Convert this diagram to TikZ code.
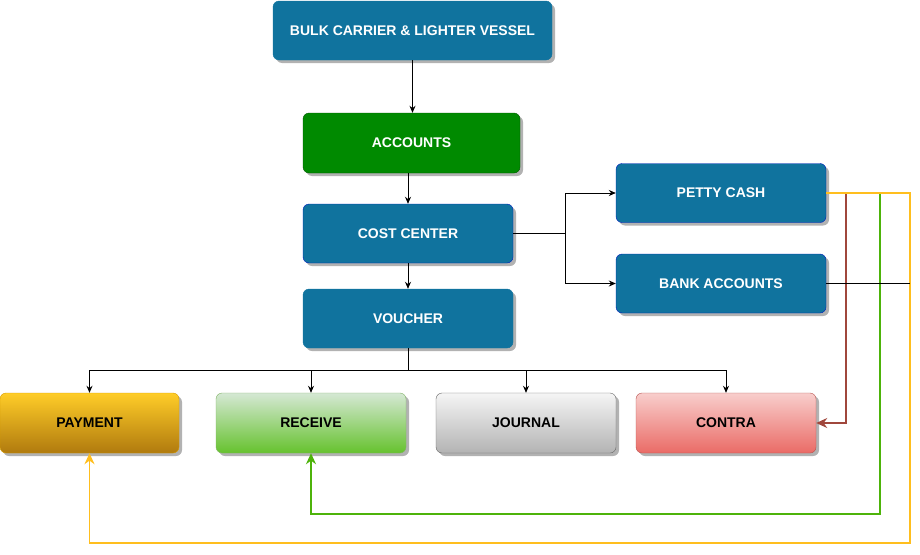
\documentclass[tikz,border=0pt]{standalone}
\usepackage{fontspec}
\setmainfont{Liberation Sans}
\usetikzlibrary{shadows,arrows.meta}

\definecolor{vesselblue}{HTML}{10739E}
\definecolor{edgeblue}{HTML}{001DBC}
\definecolor{acctgreen}{HTML}{008A00}
\definecolor{acctedge}{HTML}{005700}
\definecolor{contraline}{HTML}{A0473C}
\definecolor{receiveline}{HTML}{4DB30A}
\definecolor{paymentline}{HTML}{FFBE1E}
\definecolor{paytop}{HTML}{FFCD28}
\definecolor{paybot}{HTML}{B07A0E}
\definecolor{payedge}{HTML}{D79B00}
\definecolor{rectop}{HTML}{D5E8D4}
\definecolor{recbot}{HTML}{66C22E}
\definecolor{recedge}{HTML}{82B366}
\definecolor{jnltop}{HTML}{F5F5F5}
\definecolor{jnlbot}{HTML}{B3B3B3}
\definecolor{jnledge}{HTML}{666666}
\definecolor{contop}{HTML}{F8CECC}
\definecolor{conbot}{HTML}{EA6B66}
\definecolor{conedge}{HTML}{B85450}

\tikzset{
  box/.style={rounded corners=6pt, minimum width=210pt, minimum height=59pt,
    font=\fontsize{14}{16}\selectfont\bfseries, inner sep=0pt,
    drop shadow={shadow xshift=3pt, shadow yshift=-3pt, fill=black!30, opacity=1}},
  bluebox/.style={box, fill=vesselblue, draw=edgeblue, text=white},
  leafbox/.style={box, minimum width=179pt, minimum height=60pt, text=black},
  flow/.style={-{Stealth[length=7pt,width=6pt]}, line width=0.8pt},
  backflow/.style={-{Stealth[length=11pt,width=10pt]}, line width=1.6pt}
}

\begin{document}
\begin{tikzpicture}[x=1pt,y=-1pt]
  \useasboundingbox (0,0) rectangle (920,554);

  % upper chain
  \node[bluebox, draw=vesselblue, minimum width=279pt] (vessel) at (412.5,30.5) {BULK CARRIER \& LIGHTER VESSEL};
  \node[box, fill=acctgreen, draw=acctedge, text=white, minimum width=217pt, minimum height=60pt] (accounts) at (411.5,143) {ACCOUNTS};
  \node[bluebox] (costcenter) at (408,233.5) {COST CENTER};
  \node[bluebox, draw=vesselblue] (voucher) at (408,318.5) {VOUCHER};
  \node[bluebox] (pettycash) at (721,193) {PETTY CASH};
  \node[bluebox] (bankacc) at (721,283.5) {BANK ACCOUNTS};

  % voucher types
  \node[leafbox, draw=payedge, top color=paytop, bottom color=paybot] (payment) at (89.5,423) {PAYMENT};
  \node[leafbox, minimum width=190pt, draw=recedge, top color=rectop, bottom color=recbot] (receive) at (311,423) {RECEIVE};
  \node[leafbox, minimum width=180pt, draw=jnledge, top color=jnltop, bottom color=jnlbot] (journal) at (526,423) {JOURNAL};
  \node[leafbox, minimum width=180pt, draw=conedge, top color=contop, bottom color=conbot] (contra) at (726,423) {CONTRA};

  \coordinate (split) at (565,233.5);
  \coordinate (bus) at (408,370);
  \coordinate (contralane) at (846,423);
  \coordinate (receivelane) at (880,514);
  \coordinate (paymentlane) at (910,543);

  \draw[flow] (vessel.south) -- (vessel.south |- accounts.north);
  \draw[flow] (costcenter.north |- accounts.south) -- (costcenter.north);
  \draw[flow] (costcenter) -- (voucher);

  \draw[line width=0.8pt] (costcenter.east) -- (split);
  \draw[flow] (split) |- (pettycash);
  \draw[flow] (split) |- (bankacc);

  \draw[line width=0.8pt] (voucher.south) -- (bus);
  \draw[flow] (bus) -| (payment);
  \draw[flow] (bus) -| (receive);
  \draw[flow] (bus) -| (journal);
  \draw[flow] (bus) -| (contra);

  % lines back from petty cash
  \draw[backflow, contraline] (pettycash.east) -| (contralane) -- (contra.east);
  \draw[backflow, receiveline] (pettycash.east) -| (receivelane) -| (receive.south);
  \draw[backflow, paymentline] (pettycash.east) -| (paymentlane) -| (payment.south);
  \draw[line width=0.8pt] (bankacc.east) -- (bankacc.east -| paymentlane);
\end{tikzpicture}
\end{document}
